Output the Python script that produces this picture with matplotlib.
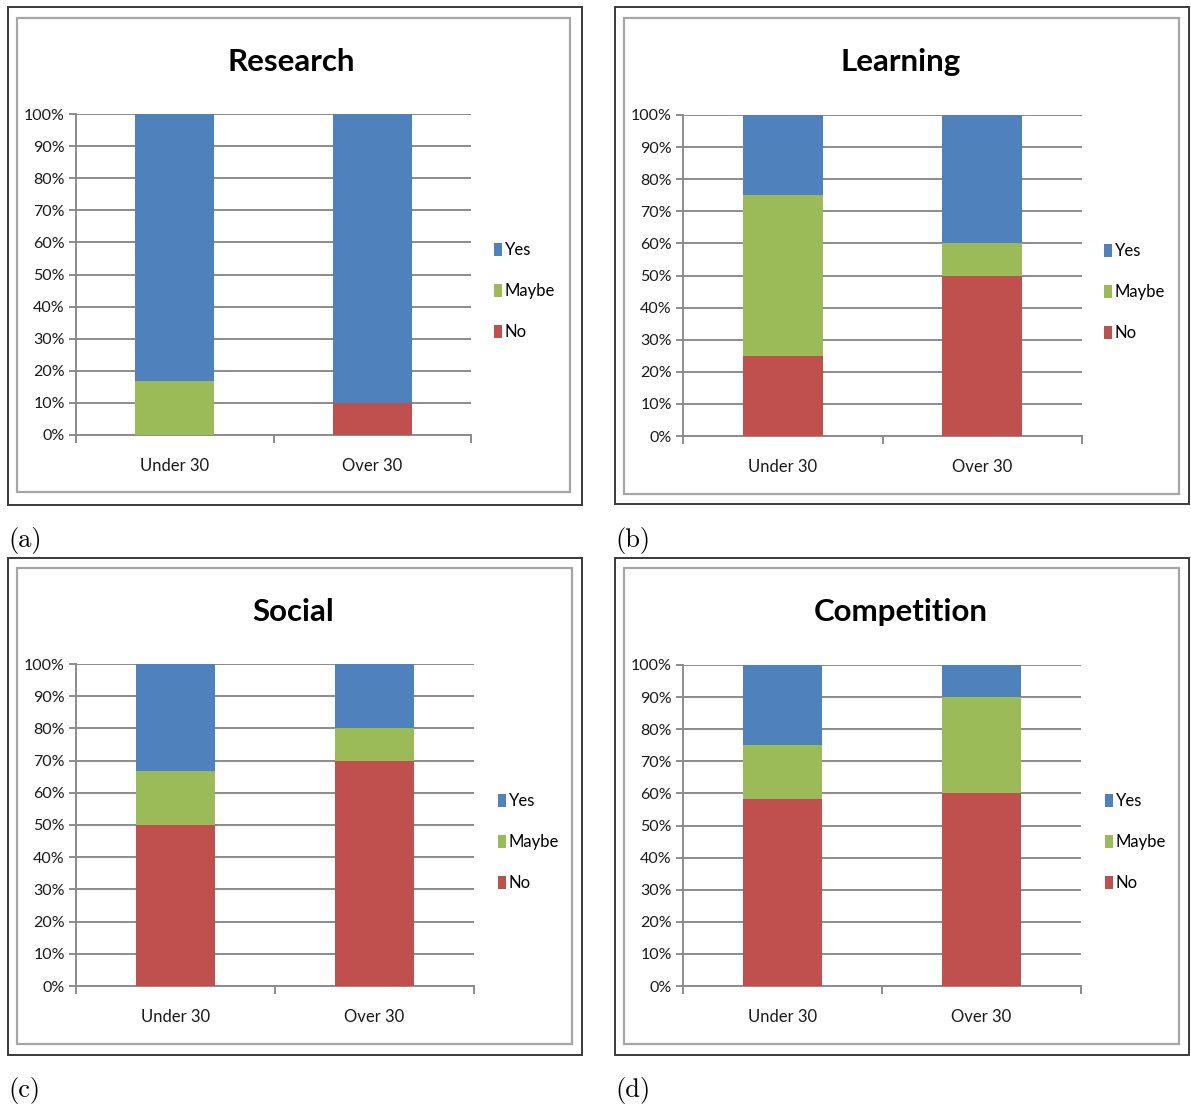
import matplotlib.pyplot as plt
from matplotlib.patches import Rectangle
import numpy as np

W, H = 1191, 1106

groups = ['Under 30', 'Over 30']
answers = ['No', 'Maybe', 'Yes']
colors = {'No': '#C0504D', 'Maybe': '#9BBB59', 'Yes': '#4F81BD'}

titles = ['Research', 'Learning', 'Social', 'Competition']
panel_tags = ['(a)', '(b)', '(c)', '(d)']

# percentages per answer, one value per group (Under 30, Over 30)
research_no = [0, 10]
research_maybe = [16.7, 0]
research_yes = [83.3, 90]

learning_no = [25, 50]
learning_maybe = [50, 10]
learning_yes = [25, 40]

social_no = [50, 70]
social_maybe = [16.7, 10]
social_yes = [33.3, 20]

competition_no = [58.3, 60]
competition_maybe = [16.7, 30]
competition_yes = [25, 10]

series = [
    (research_no, research_maybe, research_yes),
    (learning_no, learning_maybe, learning_yes),
    (social_no, social_maybe, social_yes),
    (competition_no, competition_maybe, competition_yes),
]

# pixel layout: outer box, inner box, axes box (left, top, right, bottom)
outer = [(8, 7, 582, 505), (615, 7, 1189, 504), (8, 558, 582, 1055), (615, 558, 1189, 1055)]
inner = [(17, 18, 570, 492), (624, 18, 1179, 494), (17, 568, 572, 1044), (624, 568, 1179, 1044)]
axbox = [(76, 114, 471, 435), (683, 115, 1082, 436), (76, 664, 474, 986), (683, 665, 1081, 986)]
title_xy = [(291, 62), (901, 62), (293, 612), (901, 612)]
legend_xy = [(494, 291), (1104, 292), (498, 842), (1105, 842)]
tag_xy = [(8, 540), (615, 540), (8, 1090), (615, 1090)]

font = ['Lato', 'DejaVu Sans']
grid_col = '#8C8C8C'

fig = plt.figure(figsize=(W / 100, H / 100), dpi=100)


def fx(x):
    return x / W


def fy(y):
    return 1 - y / H


def frame(box, color, lw):
    l, t, r, b = box
    fig.patches.append(Rectangle((fx(l), fy(b)), fx(r - l), (b - t) / H, fill=False,
                                 edgecolor=color, linewidth=lw, transform=fig.transFigure,
                                 figure=fig))


for i in range(4):
    frame(outer[i], '#3A3A3A', 1.4)
    frame(inner[i], '#A6A6A6', 1.6)

    l, t, r, b = axbox[i]
    ax = fig.add_axes([fx(l), fy(b), fx(r - l), (b - t) / H])
    x = np.arange(len(groups))
    bottom = np.zeros(len(groups))
    for name, vals in zip(answers, series[i]):
        ax.bar(x, vals, width=0.4, bottom=bottom, color=colors[name], label=name, zorder=3)
        bottom += np.array(vals)

    ax.set_xlim(-0.5, 1.5)
    ax.set_ylim(0, 100)
    ax.set_yticks(np.arange(0, 101, 10))
    ax.set_yticklabels([f'{v}%' for v in range(0, 101, 10)], family=font, fontsize=11.5,
                       color='#1A1A1A')
    ax.yaxis.grid(True, color=grid_col, linewidth=1.4, zorder=0)
    ax.set_axisbelow(True)

    ax.set_xticks([-0.5, 0.5, 1.5])
    ax.set_xticklabels([])
    ax.set_xticks(x, minor=True)
    ax.set_xticklabels(groups, minor=True, family=font, fontsize=12, color='#1A1A1A')
    ax.tick_params(axis='x', which='minor', length=0, pad=16.5)
    ax.tick_params(axis='x', which='major', length=6, width=1.4, color=grid_col)
    ax.tick_params(axis='y', length=5, width=1.4, color=grid_col, pad=3)

    for side in ('top', 'right'):
        ax.spines[side].set_visible(False)
    for side in ('left', 'bottom'):
        ax.spines[side].set_color(grid_col)
        ax.spines[side].set_linewidth(1.4)

    handles, labels = ax.get_legend_handles_labels()
    ax.legend(handles[::-1], labels[::-1], loc='center left',
              bbox_to_anchor=(fx(legend_xy[i][0]), fy(legend_xy[i][1])),
              bbox_transform=fig.transFigure, frameon=False,
              prop={'family': font, 'size': 12}, handlelength=0.5, handleheight=0.8,
              handletextpad=0.15, labelspacing=1.5, borderaxespad=0, borderpad=0)

    fig.text(fx(title_xy[i][0]), fy(title_xy[i][1]), titles[i], ha='center', va='center',
             family=font, fontsize=22.5, fontweight='bold', color='black')
    fig.text(fx(tag_xy[i][0]), fy(tag_xy[i][1]), panel_tags[i], ha='left', va='center',
             family=['cmr10', 'DejaVu Serif'], fontsize=19, color='black')

fig.savefig('out.png', dpi=100)
